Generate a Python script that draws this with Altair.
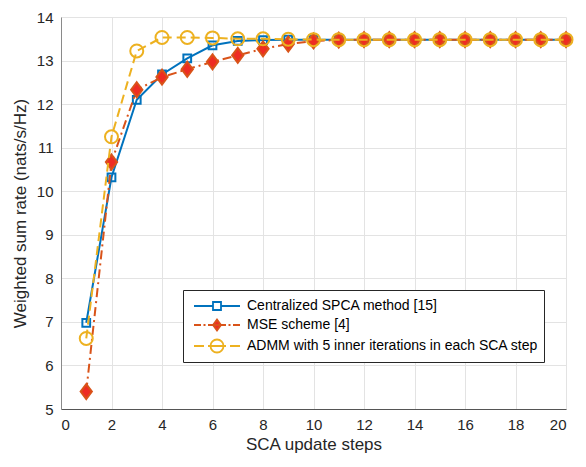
import altair as alt
import pandas as pd

steps = list(range(1, 21))
spca = [6.98, 10.32, 12.10, 12.68, 13.05, 13.35, 13.45, 13.47, 13.48, 13.48,
        13.48, 13.48, 13.48, 13.48, 13.48, 13.48, 13.48, 13.48, 13.48, 13.48]
mse = [5.40, 10.67, 12.33, 12.62, 12.80, 12.97, 13.12, 13.27, 13.38, 13.45,
       13.47, 13.48, 13.48, 13.48, 13.48, 13.48, 13.48, 13.48, 13.48, 13.48]
admm = [6.62, 11.25, 13.22, 13.53, 13.53, 13.52, 13.50, 13.50, 13.49, 13.48,
        13.48, 13.48, 13.48, 13.48, 13.48, 13.48, 13.48, 13.48, 13.48, 13.48]

names = ["Centralized SPCA method [15]", "MSE scheme [4]",
         "ADMM with 5 inner iterations in each SCA step"]
x_ticks = list(range(0, 21, 2))
y_ticks = list(range(5, 15))

BLUE = "#0072BD"
RED = "#D95319"
RED_FACE = "#EE2C23"
YELLOW = "#EDB120"

rows = []
for n, vals in zip(names, [spca, mse, admm]):
    for s, v in zip(steps, vals):
        rows.append({"step": s, "rate": v, "series": n})
df = pd.DataFrame(rows)

xenc = alt.X("step:Q", scale=alt.Scale(domain=[0, 20], nice=False),
             axis=alt.Axis(values=x_ticks, title="SCA update steps", format="d",
                           domainColor="#555555", labelPadding=8, titlePadding=4))
yenc = alt.Y("rate:Q", scale=alt.Scale(domain=[5, 14], nice=False, zero=False),
             axis=alt.Axis(values=y_ticks, title="Weighted sum rate (nats/s/Hz)",
                           format="d", domainColor="#8a8a8a", titlePadding=7,
                           labelPadding=8))

base = alt.Chart(df)

diamond = "M0,-1L0.75,0L0,1L-0.75,0Z"

def layers_for(name, color, dash, shape, size, fill):
    d = base.transform_filter(alt.datum.series == name)
    line_kw = dict(color=color, strokeWidth=2)
    if dash:
        line_kw["strokeDash"] = dash
    line = d.mark_line(**line_kw).encode(x=xenc, y=yenc)
    if fill:
        pt = d.mark_point(shape=shape, size=size, filled=True, fill=fill,
                          stroke=color, strokeWidth=2, opacity=1).encode(x=xenc, y=yenc)
    else:
        pt = d.mark_point(shape=shape, size=size, stroke=color, strokeWidth=2,
                          opacity=1).encode(x=xenc, y=yenc)
    return [line, pt]

blue_l = layers_for(names[0], BLUE, None, "square", 60, None)
red_l = layers_for(names[1], RED, [9, 4, 2, 4], diamond, 225, RED_FACE)
yel_l = layers_for(names[2], YELLOW, [9, 5], "circle", 169, None)

legend_paths = [
    "M-2.3,0H-0.4M0.4,0H2.3M-0.4,-0.4H0.4V0.4H-0.4Z",
    "M-2.3,0H-1.6M-1.35,0H-1.15M-0.9,0H0.9M1.15,0H1.35M1.6,0H2.3M0,-0.55L0.4,0L0,0.55L-0.4,0Z",
    "M-2.3,0H-1.3M-0.9,0H0.9M1.3,0H2.3M-0.65,0A0.65,0.65 0 1,0 0.65,0A0.65,0.65 0 1,0 -0.65,0Z",
]

leg = alt.Legend(title=None, orient="none", legendX=122, legendY=273,
                 symbolSize=400, symbolStrokeWidth=1.8, labelFontSize=14,
                 labelColor="#000000", strokeColor="#262626", fillColor="white",
                 padding=5, symbolOffset=18, labelOffset=19, rowPadding=0,
                 labelFont="Liberation Sans", labelLimit=0)

legend_layer = base.transform_filter("false").mark_point(filled=True, opacity=1).encode(
    x=xenc, y=yenc,
    shape=alt.Shape("series:N", scale=alt.Scale(domain=names, range=legend_paths), legend=leg),
    stroke=alt.Stroke("series:N", scale=alt.Scale(domain=names, range=[BLUE, RED, YELLOW]), legend=leg),
    fill=alt.Fill("series:N", scale=alt.Scale(domain=names, range=["transparent", RED_FACE, "transparent"]), legend=leg),
)

chart = alt.layer(*blue_l, *red_l, *yel_l, legend_layer).properties(
    width=505, height=392,
    autosize=alt.AutoSizeParams(type="none"),
    padding={"left": 53, "top": 9, "right": 12, "bottom": 50},
).configure(font="Liberation Sans").configure_axis(
    grid=True, gridColor="#E3E3E3", gridWidth=1, ticks=False,
    labelFontSize=15, labelColor="#262626", titleFontSize=17,
    titleColor="#262626", titleFontWeight="normal",
).configure_view(stroke=None)

chart.save("out.html", embed_options={"renderer": "svg", "actions": False})
